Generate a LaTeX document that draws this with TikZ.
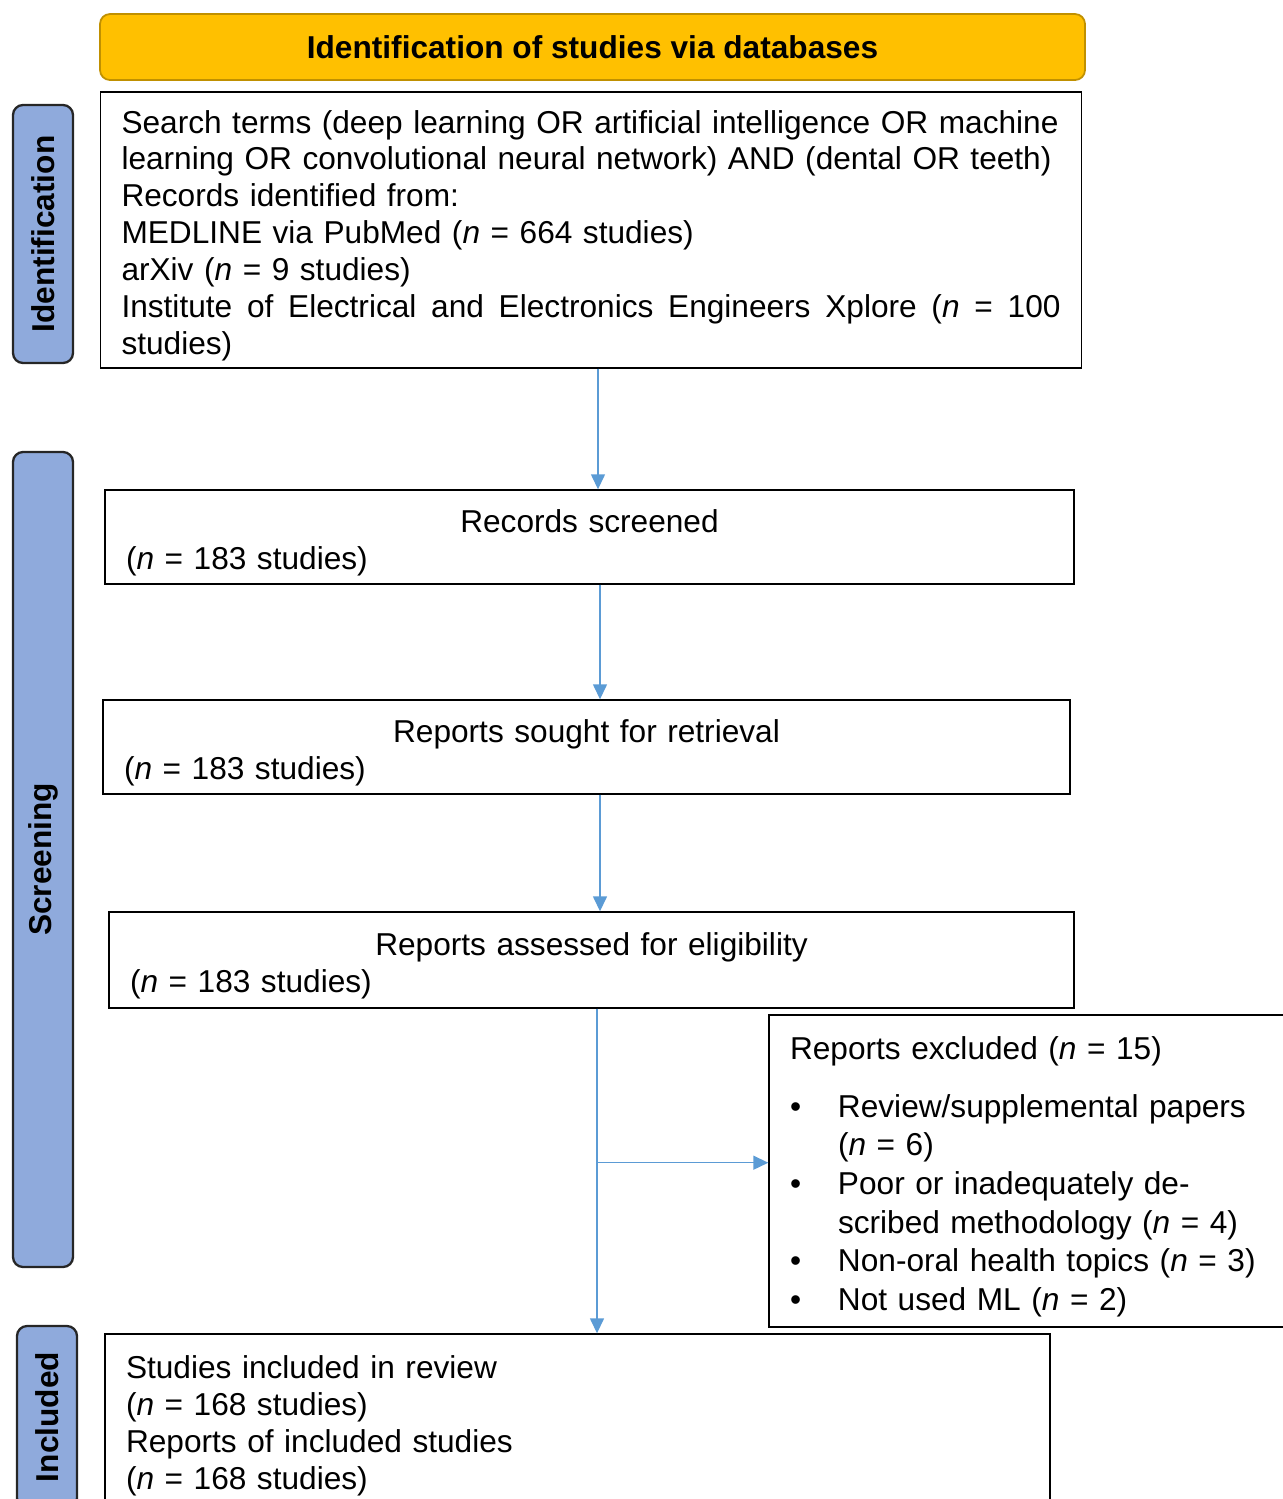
\documentclass[tikz,border=0pt]{standalone}
\usepackage{fontspec}
\setmainfont{Liberation Sans}
\usepackage{xcolor}
\usetikzlibrary{arrows.meta, positioning, calc}
\definecolor{hdfill}{HTML}{FFC000}
\definecolor{hddraw}{HTML}{C09000}
\definecolor{slfill}{HTML}{8FAADC}
\definecolor{arblue}{HTML}{5B9BD5}

\begin{document}
\begin{tikzpicture}[x=1cm,y=1cm]
\tikzset{
  bx/.style={rectangle,draw=black,line width=0.8pt,align=left,inner xsep=0.42cm,inner ysep=0pt,font=\fontsize{18}{21}\selectfont,execute at begin node={\rule{0pt}{0.68cm}}},
  hd/.style={rectangle,rounded corners=0.2cm,draw=hddraw,line width=1pt,fill=hdfill,minimum width=19.7cm,minimum height=1.32cm,font=\fontsize{18}{21}\selectfont\bfseries},
  sl/.style={rectangle,rounded corners=0.2cm,draw=black!85,line width=1.3pt,fill=slfill,rotate=90,minimum height=1.2cm,font=\fontsize{18}{21}\selectfont\bfseries},
  ar/.style={-{Triangle[length=0.3cm,width=0.28cm]},line width=0.8pt,draw=arblue,fill=arblue}
}
\useasboundingbox (0,0) rectangle (25.66,-29.98);
\clip (0,0) rectangle (25.66,-29.98);
\node[hd] (head) at (11.85,-0.94) {Identification of studies via databases};
\node[sl,minimum width=5.16cm] (lid) at (0.86,-4.68) {Identification};
\node[sl,minimum width=16.30cm] (lscr) at (0.86,-17.19) {Screening};
\node[sl,minimum width=3.64cm] (linc) at (0.94,-28.34) {Included};
\node[bx,text width=18.78cm,minimum height=5.52cm] (recs) at (11.82,-4.60) {Search terms (deep learning OR artificial intelligence OR machine\\ learning OR convolutional neural network) AND (dental OR teeth)\\ Records identified from:\\ MEDLINE via PubMed (\textit{n} = 664 studies)\\ arXiv (\textit{n} = 9 studies)\\ \makebox[18.78cm][s]{Institute\hfill of\hfill Electrical\hfill and\hfill Electronics\hfill Engineers\hfill Xplore\hfill (\textit{n}\hfill =\hfill 100}\\ studies)};
\node[bx,text width=18.54cm,minimum height=1.88cm] (scr) at (11.79,-10.74) {\makebox[18.54cm][c]{Records screened}\\ (\textit{n} = 183 studies)};
\node[bx,text width=18.50cm,minimum height=1.88cm] (ret) at (11.73,-14.94) {\makebox[18.50cm][c]{Reports sought for retrieval}\\ (\textit{n} = 183 studies)};
\node[bx,text width=18.46cm,minimum height=1.92cm] (elig) at (11.83,-19.20) {\makebox[18.46cm][c]{Reports assessed for eligibility}\\ (\textit{n} = 183 studies)};
\node[bx,text width=9.8cm,minimum height=6.24cm,font=\fontsize{18}{22}\selectfont] (excl) at (20.7,-23.42) {Reports excluded (\textit{n} = 15)\\[11pt]
\makebox[0.96cm][l]{\textbullet}Review/supplemental papers\\ \hspace*{0.96cm}(\textit{n} = 6)\\
\makebox[0.96cm][l]{\textbullet}Poor or inadequately de-\\ \hspace*{0.96cm}scribed methodology (\textit{n} = 4)\\
\makebox[0.96cm][l]{\textbullet}Non-oral health topics (\textit{n} = 3)\\
\makebox[0.96cm][l]{\textbullet}Not used ML (\textit{n} = 2)};
\node[bx,text width=18.06cm,minimum height=3.44cm] (incl) at (11.55,-28.40) {Studies included in review\\ (\textit{n} = 168 studies)\\ Reports of included studies\\ (\textit{n} = 168 studies)};
% arrows between the boxes
\draw[ar] ($(recs.south)+(0.14,0)$) -- ($(recs.south |- scr.north)+(0.14,0)$);
\draw[ar] ($(scr.south)+(0.21,0)$) -- ($(scr.south |- ret.north)+(0.21,0)$);
\draw[ar] ($(ret.south)+(0.27,0)$) -- ($(ret.south |- elig.north)+(0.27,0)$);
\draw[ar] ($(elig.south)+(0.11,0)$) -- ($(elig.south |- incl.north)+(0.11,0)$);
\coordinate (br) at ($(elig.south)+(0.11,-3.08)$);
\draw[ar] (br) -- (br -| excl.west);
\end{tikzpicture}
\end{document}
